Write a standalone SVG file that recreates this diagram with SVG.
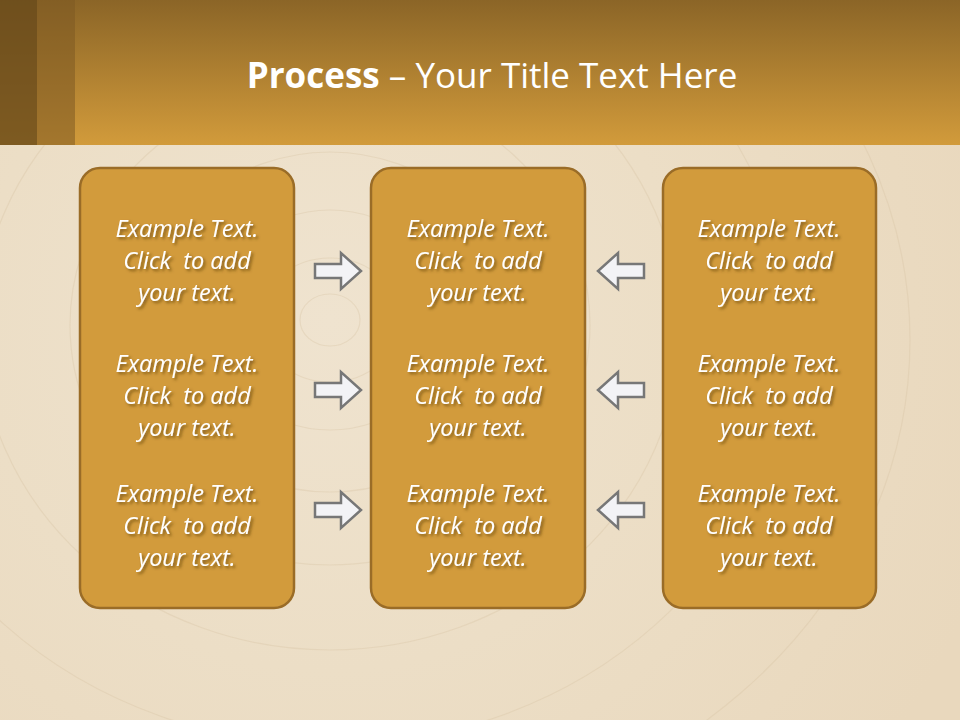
<svg xmlns="http://www.w3.org/2000/svg" width="960" height="720" viewBox="0 0 960 720">
<defs>
<linearGradient id="hdr" x1="0" y1="0" x2="0" y2="1">
<stop offset="0" stop-color="#8b6527"/>
<stop offset="1" stop-color="#d29b3b"/>
</linearGradient>
<radialGradient id="wood" cx="330" cy="320" r="700" gradientUnits="userSpaceOnUse">
<stop offset="0" stop-color="#efe3cf"/>
<stop offset="0.5" stop-color="#ecdec6"/>
<stop offset="1" stop-color="#e9d8bd"/>
</radialGradient>
<filter id="ts" x="-10%" y="-20%" width="130%" height="160%">
<feDropShadow dx="2" dy="2" stdDeviation="1.5" flood-color="#5a3d10" flood-opacity="0.7"/>
</filter>
<path id="ar" d="M-23,-7 L3,-7 L3,-18 L23,0 L3,18 L3,7 L-23,7 Z"/>
</defs>
<style>
.box{fill:#d29b3c;stroke:#9a6c27;stroke-width:2.5}
.t{font-family:"Open Sans","Liberation Sans",sans-serif;font-style:italic;font-size:23.5px;fill:#ffffff;text-anchor:middle;filter:url(#ts);white-space:pre}
.arrow{fill:#f3f3f6;stroke:#777777;stroke-width:2.5;stroke-linejoin:miter}
.ring{fill:none;stroke:#d8c4a3;stroke-width:1.2;opacity:0.35}
</style>
<rect x="0" y="0" width="960" height="720" fill="url(#wood)"/>
<g id="rings">
<ellipse class="ring" cx="330" cy="320" rx="30" ry="26"/>
<ellipse class="ring" cx="330" cy="320" rx="70" ry="62"/>
<ellipse class="ring" cx="330" cy="320" rx="120" ry="110"/>
<ellipse class="ring" cx="330" cy="322" rx="185" ry="170"/>
<ellipse class="ring" cx="330" cy="325" rx="260" ry="240"/>
<ellipse class="ring" cx="330" cy="330" rx="350" ry="320"/>
<ellipse class="ring" cx="330" cy="335" rx="460" ry="410"/>
<ellipse class="ring" cx="330" cy="340" rx="580" ry="500"/>
</g>
<rect x="0" y="0" width="960" height="145" fill="url(#hdr)"/>
<rect x="0" y="0" width="75" height="145" fill="#7d5a22" opacity="0.55"/>
<rect x="0" y="0" width="37" height="145" fill="#5e4318" opacity="0.55"/>
<text x="492" y="88" font-family="'Open Sans','Liberation Sans',sans-serif" font-size="35" fill="#ffffff" text-anchor="middle"><tspan font-weight="bold">Process</tspan> – Your Title Text Here</text>
<g id="box-left">
<rect class="box" x="80" y="168" width="214" height="440" rx="20"/>
<text class="t" x="187" y="237">Example Text.</text>
<text class="t" x="187" y="269">Click  to add</text>
<text class="t" x="187" y="301">your text.</text>
<text class="t" x="187" y="372">Example Text.</text>
<text class="t" x="187" y="404">Click  to add</text>
<text class="t" x="187" y="436">your text.</text>
<text class="t" x="187" y="502">Example Text.</text>
<text class="t" x="187" y="534">Click  to add</text>
<text class="t" x="187" y="566">your text.</text>
</g>
<g id="box-middle">
<rect class="box" x="371" y="168" width="214" height="440" rx="20"/>
<text class="t" x="478" y="237">Example Text.</text>
<text class="t" x="478" y="269">Click  to add</text>
<text class="t" x="478" y="301">your text.</text>
<text class="t" x="478" y="372">Example Text.</text>
<text class="t" x="478" y="404">Click  to add</text>
<text class="t" x="478" y="436">your text.</text>
<text class="t" x="478" y="502">Example Text.</text>
<text class="t" x="478" y="534">Click  to add</text>
<text class="t" x="478" y="566">your text.</text>
</g>
<g id="box-right">
<rect class="box" x="663" y="168" width="213" height="440" rx="20"/>
<text class="t" x="769" y="237">Example Text.</text>
<text class="t" x="769" y="269">Click  to add</text>
<text class="t" x="769" y="301">your text.</text>
<text class="t" x="769" y="372">Example Text.</text>
<text class="t" x="769" y="404">Click  to add</text>
<text class="t" x="769" y="436">your text.</text>
<text class="t" x="769" y="502">Example Text.</text>
<text class="t" x="769" y="534">Click  to add</text>
<text class="t" x="769" y="566">your text.</text>
</g>
<g id="connectors">
<use href="#ar" class="arrow" transform="translate(338,271)"/>
<use href="#ar" class="arrow" transform="translate(338,390)"/>
<use href="#ar" class="arrow" transform="translate(338,510)"/>
<use href="#ar" class="arrow" transform="translate(621,271) scale(-1,1)"/>
<use href="#ar" class="arrow" transform="translate(621,390) scale(-1,1)"/>
<use href="#ar" class="arrow" transform="translate(621,510) scale(-1,1)"/>
</g>
</svg>
